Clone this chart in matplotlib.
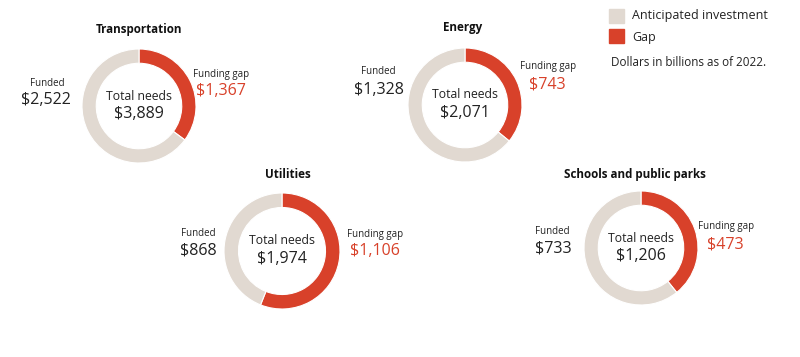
import matplotlib.pyplot as plt
from matplotlib.patches import Rectangle

plt.rcParams['font.family'] = ['Open Sans', 'DejaVu Sans']

titles = ['Transportation', 'Energy', 'Utilities', 'Schools and public parks']
funded = [2522, 1328, 868, 733]
gap = [1367, 743, 1106, 473]
total = [3889, 2071, 1974, 1206]

red = '#D8412A'
beige = '#E1D9D1'
dark = '#222222'
W, H = 800, 357

# pixel layout (x, y from top-left)
centres = [(139, 106, 57), (465, 105, 57), (282, 251, 58), (641, 248, 57)]
title_xy = [(139, 29), (463, 27), (288, 175), (635, 174)]
funded_lab = [(47, 83), (378, 72), (198, 233), (552, 231)]
funded_val = [(46, 100), (379, 90), (198, 251), (553, 248)]
gap_lab = [(193, 74), (520, 67), (347, 234), (698, 227)]
gap_val = [(196, 91), (529, 84), (350, 251), (707, 244)]

fig = plt.figure(figsize=(8, 3.57), dpi=100)

def fx(x):
    return x / W

def fy(y):
    return 1 - y / H

for i in range(4):
    cx, cy, r = centres[i]
    ax = fig.add_axes([fx(cx - r), fy(cy + r), 2 * r / W, 2 * r / H])
    ax.pie([gap[i], funded[i]], startangle=90, counterclock=False,
           colors=[red, beige],
           wedgeprops=dict(width=0.25, edgecolor='white', linewidth=0.8))
    ax.set_xlim(-1, 1)
    ax.set_ylim(-1, 1)
    ax.set_aspect('equal')
    ax.axis('off')

    fig.text(fx(cx), fy(cy - 10), 'Total needs', ha='center', va='center',
             fontsize=8.8, color=dark)
    fig.text(fx(cx), fy(cy + 8), '${:,}'.format(total[i]), ha='center',
             va='center', fontsize=11.5, color=dark)

    tx, ty = title_xy[i]
    fig.text(fx(tx), fy(ty), titles[i], ha='center', va='center',
             fontsize=8.4, fontweight='bold', color='#111111')

    x, y = funded_lab[i]
    fig.text(fx(x), fy(y), 'Funded', ha='center', va='center',
             fontsize=7, color=dark)
    x, y = funded_val[i]
    fig.text(fx(x), fy(y), '${:,}'.format(funded[i]), ha='center',
             va='center', fontsize=11.5, color=dark)

    x, y = gap_lab[i]
    fig.text(fx(x), fy(y), 'Funding gap', ha='left', va='center',
             fontsize=7, color=dark)
    x, y = gap_val[i]
    fig.text(fx(x), fy(y), '${:,}'.format(gap[i]), ha='left',
             va='center', fontsize=11.5, color=red)

# legend
fig.patches.append(Rectangle((fx(609), fy(23)), 15 / W, 14 / H,
                             transform=fig.transFigure, color=beige))
fig.patches.append(Rectangle((fx(609), fy(43)), 15 / W, 14 / H,
                             transform=fig.transFigure, color=red))
fig.text(fx(632), fy(16), 'Anticipated investment', va='center',
         fontsize=9, color=dark)
fig.text(fx(632), fy(37), 'Gap', va='center', fontsize=9, color=dark)
fig.text(fx(611), fy(62), 'Dollars in billions as of 2022.', va='center',
         fontsize=8.4, color=dark)

fig.savefig('out.png', dpi=100, facecolor='white')
